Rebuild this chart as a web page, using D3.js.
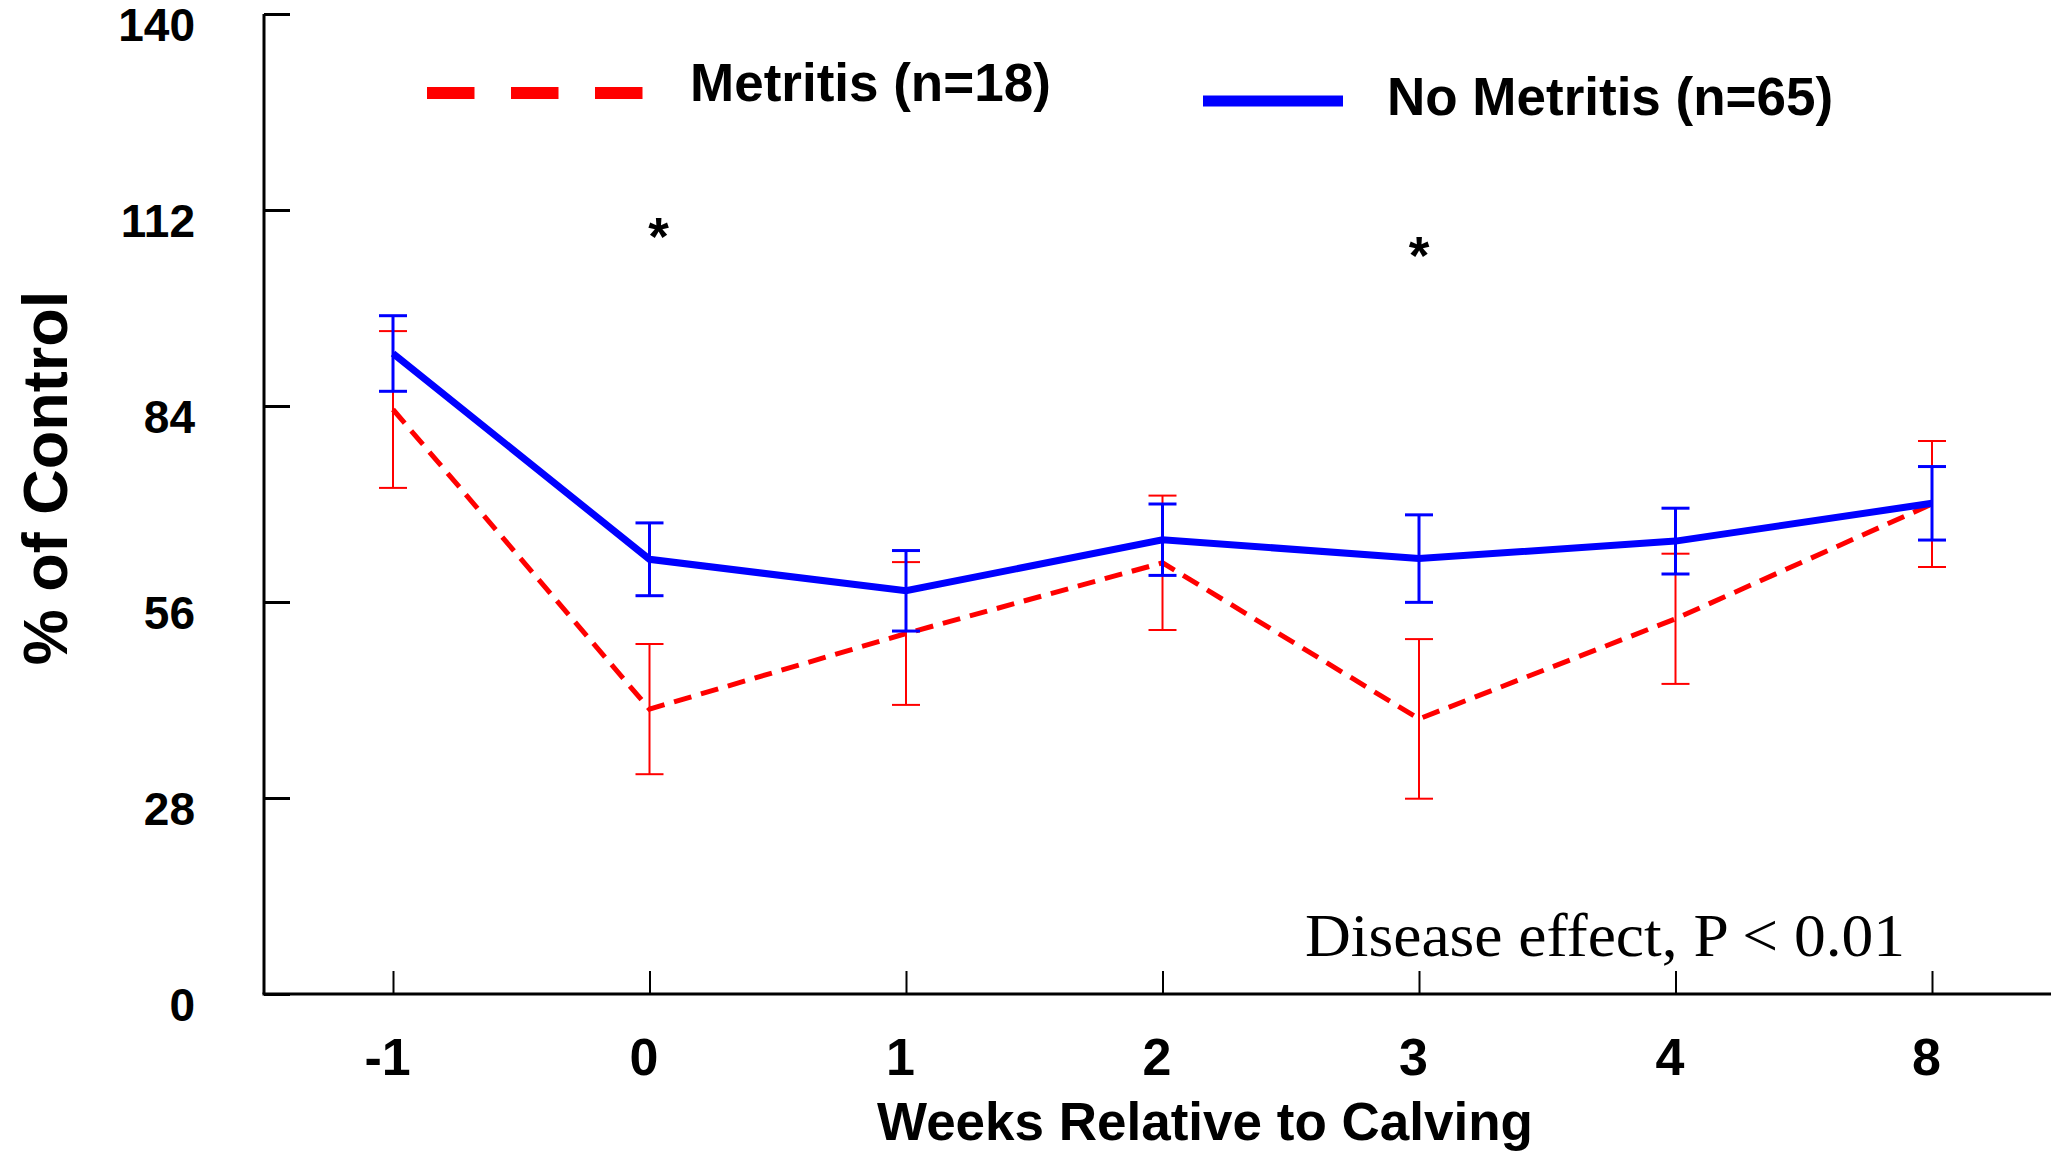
<!DOCTYPE html>
<html>
<head>
<meta charset="utf-8">
<script src="https://cdn.jsdelivr.net/npm/d3@7"></script>
<style>
  html, body { margin: 0; padding: 0; background: #fff; }
  svg { display: block; }
  text { font-family: "Liberation Sans", Arial, sans-serif; font-weight: bold; fill: #000; }
</style>
</head>
<body>
<div id="chart"></div>
<script>
// weeks relative to calving
var weeks = ["-1", "0", "1", "2", "3", "4", "8"];

// % of control, means and standard errors
var metritisMean = [83.5, 40.7, 51.5, 61.6, 39.3, 53.6, 70.0];
var metritisSE = [11.2, 9.3, 10.2, 9.6, 11.4, 9.3, 9.0];
var noMetritisMean = [91.5, 62.1, 57.6, 64.9, 62.2, 64.7, 70.1];
var noMetritisSE = [5.4, 5.2, 5.75, 5.1, 6.25, 4.7, 5.25];

var yTicks = [0, 28, 56, 84, 112, 140];

// significant differences marked with *
var starWeeks = ["0", "3"];
var starValues = [109.6, 106.9];

var width = 2051;
var height = 1151;

var margin = {
    top: 14,
    left: 264,
    bottom: 157
};

var x = d3.scalePoint()
    .domain(weeks)
    .range([393, 1932]);

var y = d3.scaleLinear()
    .domain([0, 140])
    .range([height - margin.bottom, margin.top]);

var svg = d3.select("#chart")
    .append("svg")
    .attr("width", width)
    .attr("height", height);

// axes
var yAxis = svg.append("g")
    .attr("transform", "translate(" + margin.left + ",0)")
    .call(d3.axisLeft(y).tickValues(yTicks).tickSize(-26).tickPadding(69));

yAxis.select(".domain").remove();
yAxis.selectAll(".tick line").attr("stroke", "#000").attr("stroke-width", 3);
yAxis.selectAll(".tick text")
    .attr("dy", "0.58em")
    .style("font-size", "46px")
    .style("font-family", "'Liberation Sans', Arial, sans-serif")
    .style("font-weight", "bold");

var xAxis = svg.append("g")
    .attr("transform", "translate(0," + y(0) + ")")
    .call(d3.axisBottom(x).tickSize(-23).tickPadding(44));

xAxis.select(".domain").remove();
xAxis.selectAll(".tick line").attr("stroke", "#000").attr("stroke-width", 2);
xAxis.selectAll(".tick text")
    .attr("x", -6)
    .style("font-size", "52px")
    .style("font-family", "'Liberation Sans', Arial, sans-serif")
    .style("font-weight", "bold");

svg.append("line")
    .attr("x1", margin.left).attr("x2", margin.left)
    .attr("y1", y(140)).attr("y2", y(0))
    .attr("stroke", "#000").attr("stroke-width", 3);

svg.append("line")
    .attr("x1", margin.left - 1.5).attr("x2", width)
    .attr("y1", y(0)).attr("y2", y(0))
    .attr("stroke", "#000").attr("stroke-width", 3);

// series
function drawSeries(means, ses, colour, lineWidth, errWidth, dash) {
    var pts = weeks.map(function(w, i) {
        return { week: w, mean: means[i], se: ses[i] };
    });

    var g = svg.append("g");

    var bars = g.selectAll("g.err")
        .data(pts)
        .enter()
        .append("g")
        .attr("class", "err")
        .attr("stroke", colour)
        .attr("stroke-width", errWidth);

    bars.append("line")
        .attr("x1", function(d) { return x(d.week); })
        .attr("x2", function(d) { return x(d.week); })
        .attr("y1", function(d) { return y(d.mean + d.se); })
        .attr("y2", function(d) { return y(d.mean - d.se); });

    [1, -1].forEach(function(s) {
        bars.append("line")
            .attr("x1", function(d) { return x(d.week) - 14; })
            .attr("x2", function(d) { return x(d.week) + 14; })
            .attr("y1", function(d) { return y(d.mean + s * d.se); })
            .attr("y2", function(d) { return y(d.mean + s * d.se); });
    });

    var line = d3.line()
        .x(function(d) { return x(d.week); })
        .y(function(d) { return y(d.mean); });

    g.append("path")
        .datum(pts)
        .attr("d", line)
        .attr("fill", "none")
        .attr("stroke", colour)
        .attr("stroke-width", lineWidth)
        .attr("stroke-dasharray", dash);
}

drawSeries(metritisMean, metritisSE, "#ff0000", 5, 2, "18 10");
drawSeries(noMetritisMean, noMetritisSE, "#0000ff", 7, 3, null);

// legend
svg.append("line")
    .attr("x1", 427).attr("x2", 643)
    .attr("y1", 93).attr("y2", 93)
    .attr("stroke", "#ff0000").attr("stroke-width", 12)
    .attr("stroke-dasharray", "47.5 36.5");

svg.append("text")
    .attr("x", 690).attr("y", 101)
    .style("font-size", "53px")
    .text("Metritis (n=18)");

svg.append("line")
    .attr("x1", 1203).attr("x2", 1343)
    .attr("y1", 101).attr("y2", 101)
    .attr("stroke", "#0000ff").attr("stroke-width", 11);

svg.append("text")
    .attr("x", 1387).attr("y", 115)
    .style("font-size", "53px")
    .text("No Metritis (n=65)");

// significance marks
svg.selectAll("text.star")
    .data(starWeeks)
    .enter()
    .append("text")
    .attr("class", "star")
    .attr("x", function(d, i) { return x(d) + (i === 0 ? 9 : 0); })
    .attr("y", function(d, i) { return y(starValues[i]) + 28; })
    .attr("text-anchor", "middle")
    .style("font-size", "53px")
    .text("*");

// note
svg.append("text")
    .attr("x", 1905).attr("y", 956)
    .attr("text-anchor", "end")
    .attr("textLength", 600)
    .attr("lengthAdjust", "spacingAndGlyphs")
    .style("font-family", "'Liberation Serif', 'Times New Roman', serif")
    .style("font-weight", "normal")
    .style("font-size", "62px")
    .text("Disease effect, P < 0.01");

// axis titles
svg.append("text")
    .attr("x", 1205).attr("y", 1140)
    .attr("text-anchor", "middle")
    .style("font-size", "53px")
    .text("Weeks Relative to Calving");

svg.append("text")
    .attr("transform", "translate(67,478) rotate(-90)")
    .attr("text-anchor", "middle")
    .style("font-size", "63px")
    .text("% of Control");
</script>
</body>
</html>
